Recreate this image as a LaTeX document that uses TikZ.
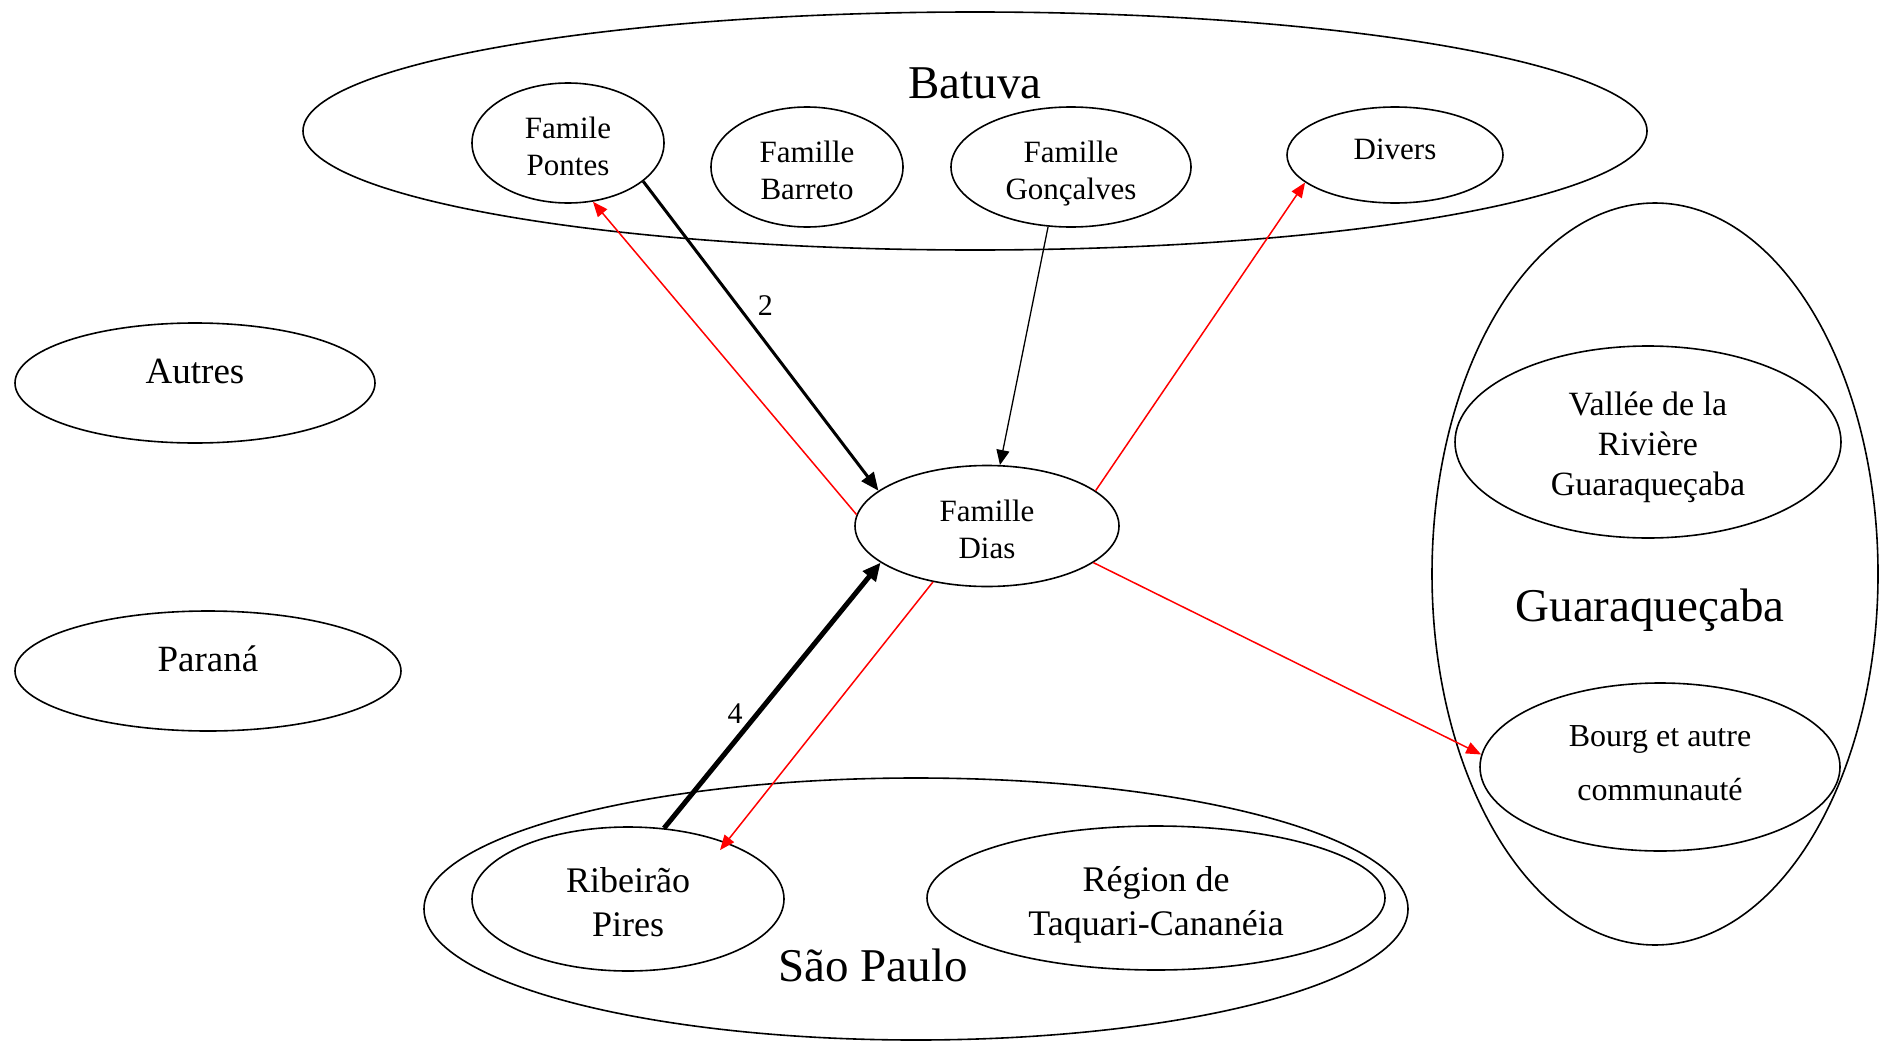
\documentclass[tikz,border=0pt]{standalone}
\usepackage{fontspec}
\setmainfont{Liberation Serif}
\usetikzlibrary{shapes.geometric,arrows.meta,positioning}

\begin{document}
\begin{tikzpicture}[x=1pt,y=-1pt,
    place/.style={draw,ellipse,line width=1.6pt,inner sep=0pt,align=center,text depth=0pt},
    famfont/.style={font=\fontsize{31}{37}\selectfont,text height=64pt},
    midfont/.style={font=\fontsize{36}{44}\selectfont,text height=74pt},
    bigfont/.style={font=\fontsize{47}{56}\selectfont},
    numfont/.style={font=\fontsize{30}{36}\selectfont,inner sep=0pt},
    flow/.style={line width=3pt,-{Triangle[length=18pt,width=15pt]}},
    heavyflow/.style={line width=5pt,-{Triangle[length=18pt,width=16pt]}},
    thinflow/.style={line width=1.3pt,-{Triangle[length=15pt,width=13pt]}},
    redflow/.style={red,line width=1.5pt,-{Triangle[length=15pt,width=12pt]}}]

    \useasboundingbox (0,0) rectangle (1879,1041);

    % Batuva
    \node[place,minimum width=1344pt,minimum height=238pt] (batuva) at (975,131) {};
    \node[bigfont,anchor=base] (batuvalabel) at (975,98) {Batuva};
    \node[place,famfont,minimum width=192pt,minimum height=120pt] (pontes) at (568,143) {Famile\\Pontes};
    \node[place,famfont,minimum width=192pt,minimum height=120pt] (barreto) at (807,167) {Famille\\Barreto};
    \node[place,famfont,minimum width=240pt,minimum height=120pt] (goncalves) at (1071,167) {Famille\\Gonçalves};
    \node[place,famfont,text height=22pt,text depth=14pt,minimum width=216pt,minimum height=96pt] (divers) at (1395,155) {Divers};

    % Autres, Parana
    \node[place,font=\fontsize{37}{44}\selectfont,text depth=24pt,minimum width=360pt,minimum height=120pt] (autres) at (195,383) {Autres};
    \node[place,font=\fontsize{37}{44}\selectfont,text depth=24pt,minimum width=386pt,minimum height=120pt] (parana) at (208,671) {Paraná};

    % Dias
    \node[place,famfont,minimum width=264pt,minimum height=121pt] (dias) at (987,526) {Famille\\Dias};

    % Guaraquecaba
    \node[place,minimum width=446pt,minimum height=742pt] (guara) at (1655,574) {};
    \node[bigfont,anchor=base] (guaralabel) at (1650,621) {Guaraqueçaba};
    \node[place,font=\fontsize{34}{40}\selectfont,text height=107pt,minimum width=386pt,minimum height=192pt] (vallee) at (1648,442) {Vallée de la\\Rivière\\Guaraqueçaba};
    \node[place,font=\fontsize{32}{54}\selectfont,text depth=8pt,minimum width=360pt,minimum height=168pt] (bourg) at (1660,767) {Bourg et autre\\communauté};

    % Sao Paulo
    \node[place,minimum width=984pt,minimum height=262pt] (saopaulo) at (916,909) {};
    \node[bigfont,anchor=base] (saopaulolabel) at (873,981) {São Paulo};
    \node[place,midfont,minimum width=312pt,minimum height=144pt] (ribeirao) at (628,899) {Ribeirão\\Pires};
    \node[place,midfont,minimum width=458pt,minimum height=144pt] (regiao) at (1156,898) {Région de\\Taquari-Cananéia};

    % Connectors
    \draw[flow] (pontes.-27) -- node[numfont,pos=0.4,right=19pt] (two) {2} (dias.162);
    \draw[redflow] (dias.175) -- (pontes.-67);
    \draw[thinflow] (goncalves.-111) -- (dias.78);
    \draw[redflow] (dias.18) -- (divers.-163);
    \draw[redflow] (dias.-19) -- (bourg.176);
    \draw[heavyflow] (ribeirao.63) -- node[numfont,pos=0.43,left=12pt] (four) {4} (dias.-161);
    \draw[redflow,shorten >=-10pt] (dias.-134) -- (ribeirao.30);

\end{tikzpicture}
\end{document}
